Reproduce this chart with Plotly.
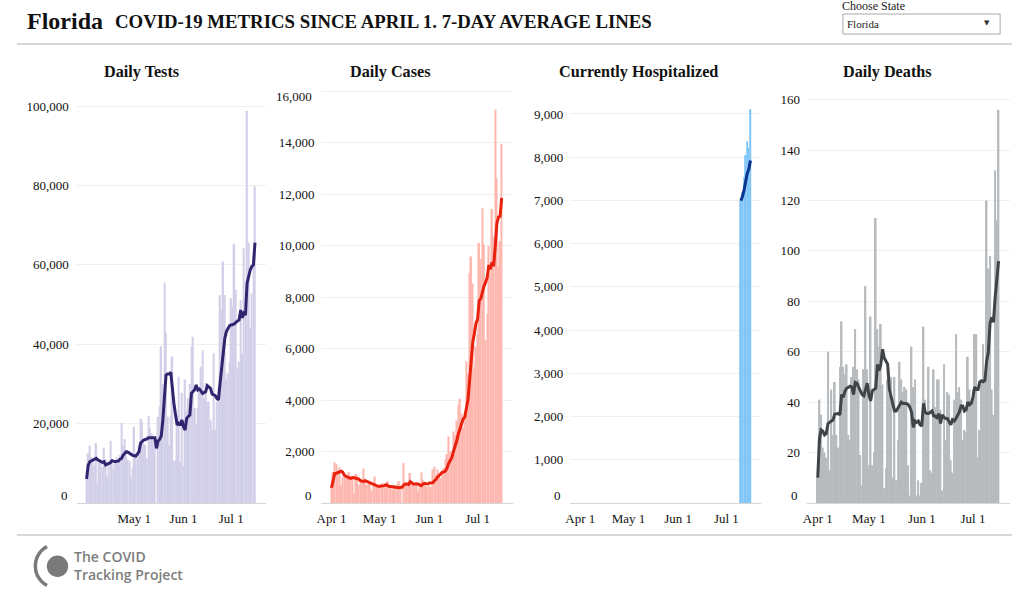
import math
import pandas as pd
import plotly.graph_objects as go

STATE = "Florida"
HEADLINE = "COVID-19 METRICS SINCE APRIL 1. 7-DAY AVERAGE LINES"
PANEL_TITLES = ["Daily Tests", "Daily Cases", "Currently Hospitalized", "Daily Deaths"]

dates = pd.date_range("2020-04-01", "2020-07-16").strftime("%Y-%m-%d").tolist()

tests = [6000, 12500, 14400, 11600, 11000, 9500, 15200, 5000, 10500, 10200,
         9000, 13900, 11000, 6600, 9500, 15700, 11000, 8500, 10000, 11500,
         10000, 12000, 20200, 14500, 16100, 12000, 11000, 10500, 6600, 8700,
         19200, 12500, 11000, 14500, 21300, 20500, 15000, 14600, 11250, 21900,
         18800, 17500, 16000, 15500, 0, 21750, 24400, 39500, 30000, 55500,
         42900, 21700, 14600, 22000, 36900, 10600, 10800, 22000, 31800, 10400,
         27800, 9400, 31200, 23000, 26400, 30000, 39400, 41900, 23900, 20000,
         23900, 28000, 34300, 38500, 26500, 30200, 25500, 25500, 21000, 18400,
         37700, 18400, 25500, 29000, 52400, 48600, 60800, 52400, 31150, 32700,
         35600, 51600, 49500, 65300, 53700, 33900, 35600, 51100, 37700, 64200,
         51600, 98800, 65600, 44300, 52700, 60000, 79700]
tests_avg = [6050, 9500, 10400, 10660, 10800, 11000, 11250, 10900, 10660, 10300,
             10240, 10400, 9600, 9800, 9900, 10160, 10660, 10500, 10400, 10500,
             10580, 11000, 11250, 12000, 12500, 12900, 12800, 12400, 12260, 12000,
             11920, 11840, 12300, 12930, 15030, 15500, 15870, 16000, 16120, 16460,
             16460, 16460, 16460, 16460, 13770, 15620, 16000, 16880, 20900, 25950,
             32240, 32500, 32500, 32900, 28470, 25000, 22170, 19650, 20070, 19600,
             20900, 19230, 18390, 21330, 21800, 22170, 27630, 28050, 28500, 29730,
             28470, 28720, 28000, 27630, 27800, 28050, 29560, 29200, 28890, 27460,
             27200, 27040, 26370, 25950, 30150, 34000, 38540, 41480, 43160, 44000,
             44670, 44840, 44900, 45090, 45510, 45800, 46100, 48620, 46690, 47780,
             47360, 55340, 57000, 58700, 59540, 60000, 65580]

cases = [590, 1200, 1580, 1520, 1190, 1390, 680, 1000, 1100, 980,
         1050, 1200, 1040, 1000, 350, 1130, 1100, 700, 920, 870,
         1340, 850, 700, 820, 780, 500, 730, 1030, 600, 700,
         650, 650, 780, 550, 730, 860, 600, 650, 500, 700,
         600, 750, 860, 640, 0, 1560, 750, 800, 700, 1170,
         850, 750, 650, 820, 450, 700, 1200, 900, 700, 650,
         620, 667, 617, 1317, 1419, 1087, 1305, 1180, 966, 1096,
         1371, 1698, 1902, 2581, 2016, 1758, 2783, 2610, 3207, 3822,
         4049, 3494, 2926, 3286, 5508, 5004, 8942, 9585, 8530, 5266,
         6093, 6563, 10109, 9488, 11458, 10059, 6336, 7361, 9989, 8935,
         11433, 10360, 15300, 12624, 9194, 10181, 13965]
cases_avg = [590, 900, 1150, 1160, 1180, 1210, 1235, 1200, 1080, 1040,
             1000, 980, 960, 990, 980, 960, 940, 930, 870, 850,
             840, 870, 840, 810, 790, 760, 710, 680, 650, 650,
             650, 650, 660, 675, 715, 660, 640, 640, 625, 610,
             600, 590, 590, 610, 610, 700, 740, 740, 715, 830,
             790, 740, 740, 740, 740, 700, 675, 740, 765, 750,
             740, 777, 765, 782, 856, 911, 1005, 1085, 1127, 1196,
             1203, 1243, 1360, 1542, 1661, 1775, 2016, 2193, 2408, 2682,
             2892, 3103, 3270, 3342, 3756, 4013, 4744, 5535, 6254, 6589,
             6990, 7140, 7870, 7948, 8215, 8434, 8587, 8768, 9257, 9089,
             9367, 9210, 9959, 10857, 11119, 11147, 11865]

hosp_dates = ["2020-07-10", "2020-07-11", "2020-07-12", "2020-07-13",
              "2020-07-14", "2020-07-15", "2020-07-16"]
hosp = [6991, 7186, 7542, 8051, 8363, 8217, 9112]
hosp_avg = [6991, 7089, 7240, 7443, 7627, 7725, 7923]

deaths = [10, 41, 35, 22, 20, 18, 60, 13, 45, 27,
          48, 27, 22, 54, 72, 54, 51, 55, 27, 25,
          50, 54, 69, 53, 49, 19, 7, 53, 86, 53,
          15, 74, 15, 20, 113, 69, 62, 71, 47, 6,
          14, 49, 43, 50, 10, 50, 9, 25, 56, 49,
          44, 46, 45, 15, 3, 62, 46, 49, 3, 9,
          3, 8, 70, 41, 36, 54, 13, 12, 53, 38,
          49, 49, 37, 5, 55, 25, 44, 43, 17, 12,
          41, 67, 44, 46, 41, 25, 29, 28, 58, 45,
          39, 45, 67, 67, 18, 29, 48, 63, 48, 120,
          93, 98, 45, 35, 132, 112, 156]
deaths_avg = [10, 25.5, 29, 28.5, 27, 27.5, 31.5, 32, 32.5, 33,
              35.3, 35.5, 35.5, 35, 43, 42, 44.5, 45.5, 46, 46.3,
              46, 43, 47.8, 47.5, 46, 44.5, 43, 42.5, 45, 47.5,
              43, 40.5, 44.5, 45, 45.5, 55, 52.5, 55, 61, 57.5,
              56, 55, 45, 42, 40, 36.5, 36.5, 37.5, 38.5, 40,
              39.5, 39.5, 39.5, 39, 38, 36, 30, 32.5, 32, 32.5,
              31, 30.5, 39.5, 36, 35.5, 35.5, 36, 36.5, 34.5, 34.5,
              33.5, 35.5, 31.5, 35, 34, 33.5, 33.5, 32.5, 31, 33,
              32.5, 33.5, 34.5, 36, 38.5, 38.5, 36.5, 37, 40, 39,
              39.5, 42, 46, 45, 45, 48, 48.5, 48.1, 48.6, 56.1,
              59.9, 71.3, 73.6, 71.7, 81.6, 90.7, 95.9]

y_ticks = [
    [0, 20000, 40000, 60000, 80000, 100000],
    [0, 2000, 4000, 6000, 8000, 10000, 12000, 14000, 16000],
    [0, 1000, 2000, 3000, 4000, 5000, 6000, 7000, 8000, 9000],
    [0, 20, 40, 60, 80, 100, 120, 140, 160],
]
x_tick_vals = ["2020-04-01", "2020-05-01", "2020-06-01", "2020-07-01"]
x_tick_text = ["Apr 1", "May 1", "Jun 1", "Jul 1"]

# ---------------- layout geometry (pixels) ----------------
W, H = 1026, 595
def px(x): return x / W
def py(y): return 1 - y / H

PLOT_TOP, PLOT_BOTTOM = 90, 503
panels_x = [(72, 262), (318, 510), (568, 760), (806, 1010)]
y_ranges = [104030, 16058, 9555, 163.8]
title_cx = [137, 387, 637, 887]

bar_colors = ["#d2d0e8", "#fdb7af", "#80c5f6", "#b6babd"]
line_colors = ["#31256f", "#e8200c", "#0b348f", "#3f4448"]

SERIF = "Liberation Serif, Times New Roman, serif"
TXT = "#111"

series = [
    (dates, tests, dates, tests_avg),
    (dates, cases, dates, cases_avg),
    (hosp_dates, hosp, hosp_dates, hosp_avg),
    (dates, deaths, dates, deaths_avg),
]

fig = go.Figure()
for i, (bx, by, lx, ly) in enumerate(series):
    sfx = "" if i == 0 else str(i + 1)
    fig.add_trace(go.Bar(x=bx, y=by, marker_color=bar_colors[i], marker_line_width=0,
                         xaxis="x" + sfx, yaxis="y" + sfx, hoverinfo="skip"))
    fig.add_trace(go.Scatter(x=lx, y=ly, mode="lines",
                             line=dict(color=line_colors[i], width=3),
                             xaxis="x" + sfx, yaxis="y" + sfx, hoverinfo="skip"))

layout = dict(
    width=W, height=H, margin=dict(l=0, r=0, t=0, b=0),
    paper_bgcolor="white", plot_bgcolor="white",
    showlegend=False, bargap=0.04,
    font=dict(family=SERIF, size=13, color=TXT),
)
for i in range(4):
    sfx = "" if i == 0 else str(i + 1)
    x0, x1 = panels_x[i]
    tv = x_tick_vals[1:] if i == 0 else x_tick_vals
    tt = x_tick_text[1:] if i == 0 else x_tick_text
    layout["xaxis" + sfx] = dict(
        domain=[px(x0), px(x1)], anchor="y" + sfx, type="date",
        range=["2020-03-25 18:00", "2020-07-22 18:00"],
        tickvals=tv, ticktext=tt, showgrid=False, zeroline=False,
        showline=True, linecolor="#d6d6d6", linewidth=1, ticks="",
        ticklabelstandoff=3, tickfont=dict(family=SERIF, size=13, color=TXT),
    )
    yt = y_ticks[i]
    ytext = []
    for v in yt:
        if v == 0 or (i == 1 and v == yt[-1]):
            ytext.append("")
        else:
            ytext.append(f"{v:,}")
    layout["yaxis" + sfx] = dict(
        domain=[py(PLOT_BOTTOM), py(PLOT_TOP)], anchor="x" + sfx,
        range=[0, y_ranges[i]], tickvals=yt, ticktext=ytext,
        showgrid=True, gridcolor="#efefef", gridwidth=1, zeroline=False,
        showline=False, ticks="", ticklabelstandoff=7 if i == 0 else 6,
        tickfont=dict(family=SERIF, size=13, color=TXT),
    )
fig.update_layout(**layout)

ann = []
# special y labels (0 lifted, top label of cases lowered)
for i in range(4):
    sfx = "" if i == 0 else str(i + 1)
    ann.append(dict(text="0", xref="x%s domain" % sfx, yref="y" + sfx, x=0, y=0,
                    xanchor="right", yanchor="middle", xshift=-7, yshift=8,
                    showarrow=False, font=dict(family=SERIF, size=13, color=TXT)))
ann.append(dict(text=f"{y_ticks[1][-1]:,}", xref="x2 domain", yref="y2", x=0, y=y_ticks[1][-1],
                xanchor="right", yanchor="middle", xshift=-7, yshift=-5,
                showarrow=False, font=dict(family=SERIF, size=13, color=TXT)))
# panel titles
for i in range(4):
    ann.append(dict(text="<b>%s</b>" % PANEL_TITLES[i], xref="paper", yref="paper",
                    x=px(title_cx[i]), y=py(72), xanchor="center", yanchor="middle",
                    showarrow=False, font=dict(family=SERIF, size=16.2, color=TXT)))
# header
ann.append(dict(text="<b>%s</b>" % STATE, xref="paper", yref="paper", x=px(20), y=py(21),
                xanchor="left", yanchor="middle", showarrow=False,
                font=dict(family=SERIF, size=24, color=TXT)))
ann.append(dict(text="<b>%s</b>" % HEADLINE, xref="paper", yref="paper", x=px(108.5), y=py(22),
                xanchor="left", yanchor="middle", showarrow=False,
                font=dict(family=SERIF, size=18.8, color=TXT)))
# dropdown
ann.append(dict(text="Choose State", xref="paper", yref="paper", x=px(839), y=py(6),
                xanchor="left", yanchor="middle", showarrow=False,
                font=dict(family=SERIF, size=12, color="#222")))
ann.append(dict(text=STATE, xref="paper", yref="paper", x=px(844), y=py(24),
                xanchor="left", yanchor="middle", showarrow=False,
                font=dict(family=SERIF, size=11, color="#222")))
ann.append(dict(text="▼", xref="paper", yref="paper", x=px(987), y=py(23),
                xanchor="center", yanchor="middle", showarrow=False,
                font=dict(family="DejaVu Sans", size=7, color="#333")))
# logo text
ann.append(dict(text="The COVID<br>Tracking Project", xref="paper", yref="paper",
                x=px(67), y=py(565), xanchor="left", yanchor="middle", align="left",
                showarrow=False,
                font=dict(family="Open Sans, sans-serif", size=14, color="#7d7d7d", weight=600)))

shapes = [
    dict(type="line", xref="paper", yref="paper", x0=px(12), x1=px(1012), y0=py(44), y1=py(44),
         line=dict(color="#b0b0b0", width=1)),
    dict(type="line", xref="paper", yref="paper", x0=px(12), x1=px(1012), y0=py(535), y1=py(535),
         line=dict(color="#b0b0b0", width=1)),
    dict(type="rect", xref="paper", yref="paper", x0=px(842), x1=px(1000), y0=py(14), y1=py(34),
         line=dict(color="#a8a8a8", width=1), fillcolor="white"),
    dict(type="circle", xref="paper", yref="paper", x0=px(42), x1=px(63.5), y0=py(555.5), y1=py(577),
         line=dict(width=0), fillcolor="#7a7a7a"),
]
# logo arc (decorative)
cx, cy, r = 52.5, 566, 22
pts = []
for k in range(0, 41):
    a = math.radians(118 + k * (124 / 40))
    pts.append((cx + r * math.cos(a), cy - r * math.sin(a)))
path = "M " + " L ".join("%.4f,%.4f" % (px(x), py(y)) for x, y in pts)
shapes.append(dict(type="path", xref="paper", yref="paper", path=path,
                   line=dict(color="#7a7a7a", width=3.5)))

fig.update_layout(annotations=ann, shapes=shapes)
fig.write_html("out.html", config={"displayModeBar": False},
               post_script="document.body.style.margin='0';document.body.style.padding='0';")
